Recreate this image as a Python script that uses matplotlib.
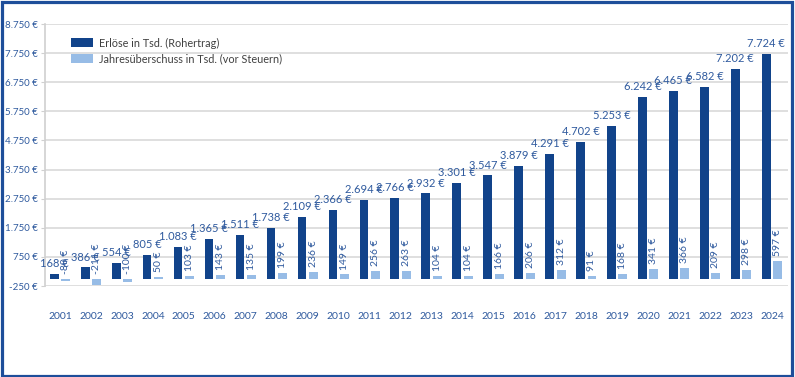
import matplotlib
matplotlib.use("Agg")
import matplotlib.pyplot as plt
from matplotlib.patches import Rectangle
import numpy as np

years = [str(y) for y in range(2001, 2025)]
erloese = [168, 386, 554, 805, 1083, 1365, 1511, 1738, 2109, 2366, 2694, 2766,
           2932, 3301, 3547, 3879, 4291, 4702, 5253, 6242, 6465, 6582, 7202, 7724]
ueberschuss = [-80, -211, -100, 50, 103, 143, 135, 199, 236, 149, 256, 263,
               104, 104, 166, 206, 312, 91, 168, 341, 366, 209, 298, 597]
yticks = [-250, 750, 1750, 2750, 3750, 4750, 5750, 6750, 7750, 8750]
series_names = ["Erlöse in Tsd. (Rohertrag)", "Jahresüberschuss in Tsd. (vor Steuern)"]

DARK = "#11438A"
LIGHT = "#97BCE6"
TXT = "#2F5A9E"

plt.rcParams['font.family'] = ['Lato', 'DejaVu Sans']

def fmt(v):
    s = f"{abs(v):,}".replace(",", ".")
    return ("-" if v < 0 else "") + s + " €"

W, H = 795, 377
fig = plt.figure(figsize=(W / 100, H / 100), dpi=100)
ax = fig.add_axes([44.5 / W, (H - 286) / H, (787.5 - 44.5) / W, (286 - 24) / H])

x = np.arange(len(years))
wd, wl = 0.28, 0.29
off = 0.185
ax.bar(x - off, erloese, width=wd, color=DARK, label=series_names[0], zorder=3)
ax.bar(x + off, ueberschuss, width=wl, color=LIGHT, label=series_names[1], zorder=3)

for xi, v in zip(x, erloese):
    ax.annotate(fmt(v), (xi - off, v), xytext=(0, 3.5), textcoords="offset points",
                ha="center", va="bottom", fontsize=8, color=TXT, zorder=4)
for xi, v in zip(x, ueberschuss):
    ax.annotate(fmt(v), (xi + off, max(v, 0)), xytext=(0, 3.5), textcoords="offset points",
                ha="center", va="bottom", rotation=90, fontsize=7.5, color=TXT, zorder=4)

ax.set_xlim(-0.5, len(years) - 0.5)
ax.set_ylim(-250, 8750)
ax.set_yticks(yticks)
ax.set_yticklabels([fmt(v) for v in yticks], fontsize=7, color=TXT)
ax.set_xticks(x)
ax.set_xticklabels(years, fontsize=7.5, color=TXT)
ax.tick_params(axis='x', length=0, pad=19)
ax.tick_params(axis='y', length=3, color="#D0D0D0", pad=2)
ax.grid(axis='y', color="#D9D9D9", linewidth=1.2, zorder=0)
for s in ["top", "right", "bottom"]:
    ax.spines[s].set_visible(False)
ax.spines["left"].set_color("#D0D0D0")
ax.spines["left"].set_linewidth(1.2)

leg = ax.legend(loc="upper left", bbox_to_anchor=(0.03, 0.965), frameon=False,
                fontsize=7.8, handlelength=2.0, handleheight=0.9, labelspacing=0.4,
                handletextpad=0.6, borderaxespad=0)
for t in leg.get_texts():
    t.set_color("#404040")

fig.patches.append(Rectangle((1.5 / W, 1.5 / H), (W - 5) / W, (H - 3) / H,
                             transform=fig.transFigure, fill=False,
                             edgecolor="#1E4E9A", linewidth=2.3, zorder=10))

fig.savefig("out.png", dpi=100)
